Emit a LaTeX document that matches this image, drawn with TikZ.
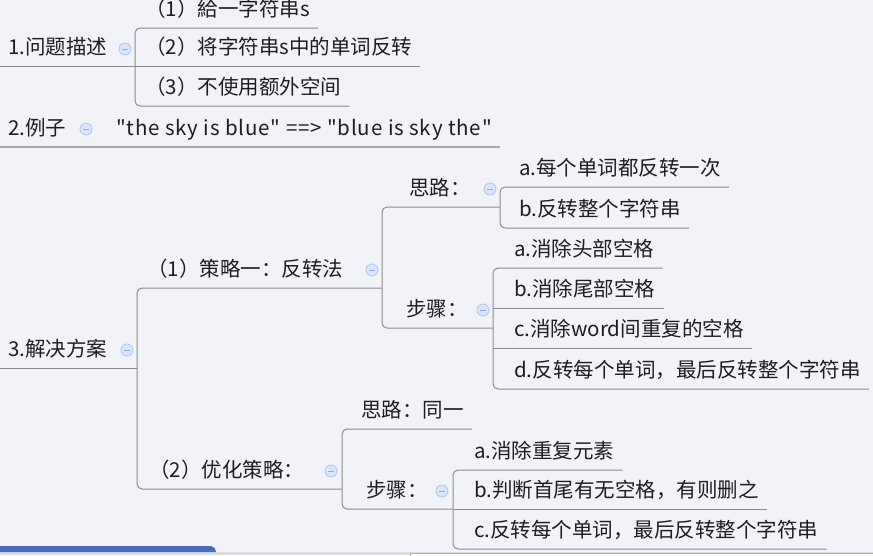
\documentclass[tikz,border=0pt]{standalone}
\usepackage{fontspec}
\newfontfamily\cjk{Noto Sans CJK SC}
\newfontfamily\exfont[LetterSpace=4]{Noto Sans CJK SC}
\usepackage{tikz}
\usetikzlibrary{arrows,%
                shapes,positioning}

\definecolor{bgcol}{HTML}{F2F3F8}
\definecolor{linecol}{HTML}{8C8C8C}
\definecolor{txtcol}{HTML}{1E1E1E}
\definecolor{foldfill}{HTML}{D8E5FA}
\definecolor{folddraw}{HTML}{AEC6EE}
\definecolor{foldmark}{HTML}{8EACDF}
\definecolor{tabblue}{HTML}{4A6CBD}
\definecolor{stripgray}{HTML}{DDDDE2}

\tikzset{topic/.style={anchor=south west, inner xsep=8pt, inner ysep=0pt,
                       text height=15pt, text depth=11pt, text=txtcol,
                       font=\cjk\fontsize{20.5pt}{24pt}\selectfont},
         branch/.style={draw=linecol, line width=1pt, rounded corners=5pt},
         fold/.style={circle, minimum size=12pt, inner sep=0pt, fill=foldfill,
                      draw=folddraw, line width=0.8pt,
                      path picture={\draw[foldmark, line width=1pt]
                        ([xshift=-3pt]path picture bounding box.center) --
                        ([xshift=3pt]path picture bounding box.center);}}}

\begin{document}
\begin{tikzpicture}[x=1pt,y=-1pt]
\fill[bgcol] (0,0) rectangle (873,555);
\useasboundingbox (0,0) rectangle (873,555);
% 1. problem
\node[topic] (t1) at (0,66) {1.问题描述};
\node[fold] (i1) at (125,49) {};
\coordinate (b1) at (135,66);
\node[topic] (c11) at (137,28) {（1）給一字符串s};
\node[topic] (c12) at (137,66) {（2）将字符串s中的单词反转};
\node[topic] (c13) at (137,106) {（3）不使用额外空间};
% 2. example
\node[topic] (t2) at (0,147) {2.例子};
\node[fold] (i2) at (86,129) {};
\node[topic] (c21) at (108,147)
  {\exfont\fontsize{20.5pt}{24pt}\selectfont "the sky is blue" ==> "blue is sky the"};
% 3. solution
\node[topic] (t3) at (0,368) {3.解决方案};
\node[fold] (i3) at (127,350) {};
\coordinate (b3) at (137,368);
\node[topic] (c31) at (139,288) {（1）策略一：反转法};
\node[fold] (i31) at (372,270) {};
\coordinate (b31) at (382,288);
\node[topic] (c311) at (401,207) {思路：};
\node[fold] (i311) at (490,189) {};
\coordinate (b311) at (500,207);
\node[topic] (p1) at (511,187) {a.每个单词都反转一次};
\node[topic] (p2) at (511,228) {b.反转整个字符串};
\node[topic] (c312) at (398,328) {步骤：};
\node[fold] (i312) at (483,310) {};
\coordinate (b312) at (493,328);
\node[topic] (s1) at (506,268) {a.消除头部空格};
\node[topic] (s2) at (506,308) {b.消除尾部空格};
\node[topic] (s3) at (506,348) {c.消除word间重复的空格};
\node[topic] (s4) at (506,389) {d.反转每个单词，最后反转整个字符串};
\node[topic] (c32) at (141,489) {（2）优化策略：};
\node[fold] (i32) at (331,471) {};
\coordinate (b32) at (342,489);
\node[topic] (c321) at (353,429) {思路：同一};
\node[topic] (c322) at (358,509) {步骤：};
\node[fold] (i322) at (442,491) {};
\coordinate (b322) at (453,509);
\node[topic] (u1) at (466,470) {a.消除重复元素};
\node[topic] (u2) at (466,509) {b.判断首尾有无空格，有则删之};
\node[topic] (u3) at (466,549) {c.反转每个单词，最后反转整个字符串};
% branches
\draw[branch] (t1.south west) -- (b1);
\draw[branch] (c11.south east) -| (b1) |- (c13.south east);
\draw[branch] (b1) -- (c12.south east);
\draw[branch, draw=linecol!75, line width=2pt] (t2.south west) -- (c21.south east);
\draw[branch] (t3.south west) -- (b3);
\draw[branch] (b31) -| (b3) |- (b32);
\draw[branch] (b311) -| (b31) |- (b312);
\draw[branch] (p1.south east) -| (b311) |- (p2.south east);
\draw[branch] (s1.south east) -| (b312) |- (s4.south east);
\draw[branch] (s2.south east) -- (s2.south east -| b312);
\draw[branch] (s3.south east) -- (s3.south east -| b312);
\draw[branch] (c321.south east) -| (b32) |- (b322);
\draw[branch] (u1.south east) -| (b322) |- (u3.south east);
\draw[branch] (b322) -- (u2.south east);
% window strip
\fill[stripgray] (0,552) rectangle (873,555);
\fill[tabblue] (0,552) |- (211,546) to[out=0,in=90] (216,552) -- cycle;
\draw[gray!60, fill=white] (410,553.5) rectangle (880,557);
\end{tikzpicture}
\end{document}
